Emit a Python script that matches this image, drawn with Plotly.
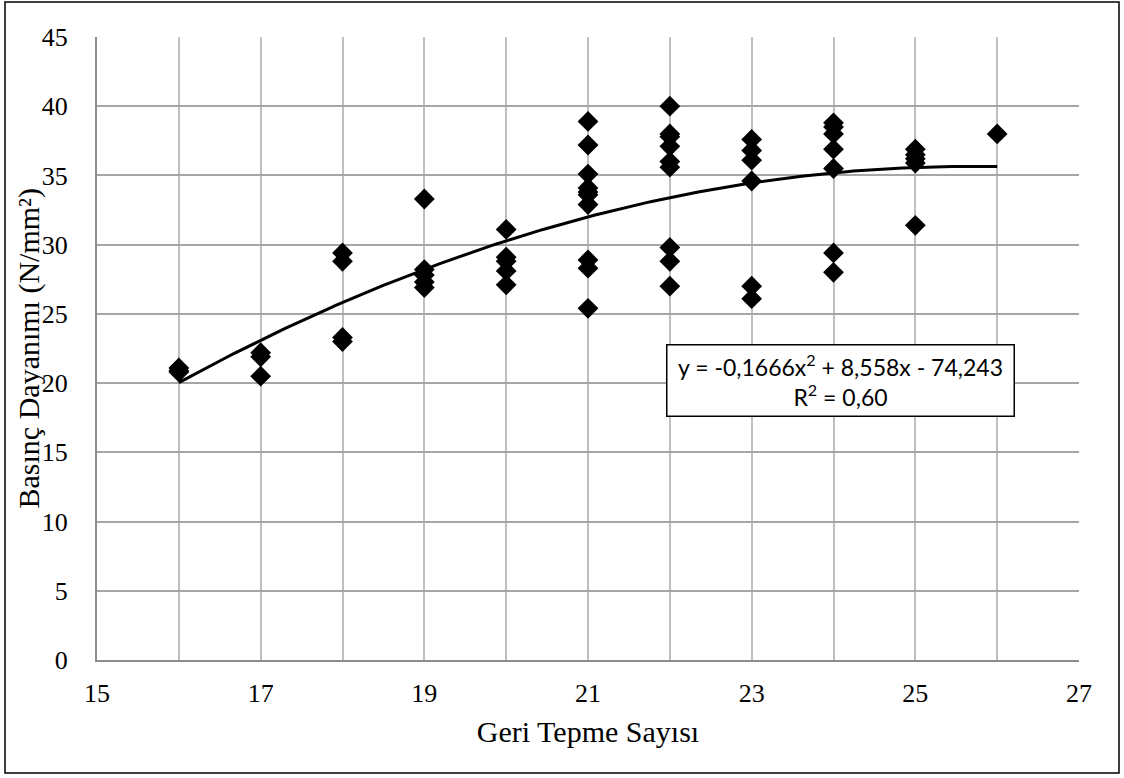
import numpy as np
import plotly.graph_objects as go

# Data (Geri Tepme Sayısı vs Basınç Dayanımı)
x_vals = ([16] * 3 + [17] * 3 + [18] * 4 + [19] * 5 + [20] * 5 + [21] * 10 +
          [22] * 9 + [23] * 6 + [24] * 7 + [25] * 5 + [26])
y_vals = [21.1, 20.9, 20.8,
          22.2, 21.9, 20.5,
          29.4, 28.8, 23.3, 23.0,
          33.3, 28.2, 27.8, 27.3, 26.9,
          31.1, 29.1, 28.8, 28.1, 27.1,
          38.9, 37.2, 35.1, 34.1, 33.8, 33.6, 32.9, 28.9, 28.3, 25.4,
          40.0, 38.0, 37.8, 37.1, 36.0, 35.6, 29.8, 28.8, 27.0,
          37.6, 36.8, 36.1, 34.6, 27.0, 26.1,
          38.8, 38.5, 38.0, 36.9, 35.5, 29.4, 28.0,
          36.9, 36.5, 36.2, 35.9, 31.4,
          38.0]

# Trend line coefficients (as printed in the chart)
coef_a, coef_b, coef_c = -0.1666, 8.558, -74.243
r_squared = "0,60"

x_tick_vals = [15, 17, 19, 21, 23, 25, 27]
y_tick_vals = [0, 5, 10, 15, 20, 25, 30, 35, 40, 45]

x_title = "Geri Tepme Sayısı"
y_title = "Basınç Dayanımı (N/mm²)"

trend_x = np.linspace(min(x_vals), max(x_vals), 200)
trend_y = coef_a * trend_x ** 2 + coef_b * trend_x + coef_c

W, H = 1124, 778
ml, mr, mt, mb = 97, 45, 37, 118
pw = W - ml - mr
ph = H - mt - mb

fig = go.Figure()
fig.add_trace(go.Scatter(
    x=x_vals, y=y_vals, mode="markers",
    marker=dict(symbol="diamond", size=16, color="black", line=dict(width=0)),
    showlegend=False, hoverinfo="x+y"))
fig.add_trace(go.Scatter(
    x=trend_x, y=trend_y, mode="lines",
    line=dict(color="black", width=3), showlegend=False, hoverinfo="skip"))

serif = "Liberation Serif, Times New Roman, serif"
TFS = 26   # tick labels
AFS = 30   # axis titles
fig.update_layout(
    width=W, height=H,
    margin=dict(l=ml, r=mr, t=mt, b=mb),
    paper_bgcolor="white", plot_bgcolor="white",
    font=dict(family=serif, size=TFS, color="black"),
    xaxis=dict(
        range=[15, 27], tickvals=x_tick_vals, ticktext=[str(v) for v in x_tick_vals],
        showgrid=True, gridcolor="#bfbfbf", gridwidth=2,
        minor=dict(dtick=1, tick0=15, showgrid=True, gridcolor="#bfbfbf", gridwidth=2),
        showline=True, linecolor="#8c8c8c", linewidth=2,
        zeroline=False, ticks="", ticklabelstandoff=9,
        tickfont=dict(family=serif, size=TFS),
        title=dict(text=x_title, font=dict(family=serif, size=AFS), standoff=14)),
    yaxis=dict(
        range=[0, 45], tickvals=y_tick_vals, ticktext=[str(v) for v in y_tick_vals],
        showgrid=True, gridcolor="#a6a6a6", gridwidth=2,
        showline=True, linecolor="#8c8c8c", linewidth=2,
        zeroline=False, ticks="", ticklabelstandoff=22,
        tickfont=dict(family=serif, size=TFS)),
)

# Y-axis title placed precisely
fig.add_annotation(
    x=(28 - ml) / pw, y=0.5, xref="paper", yref="paper",
    xanchor="center", yanchor="middle", textangle=-90,
    text=y_title, showarrow=False,
    font=dict(family=serif, size=AFS, color="black"))

# Equation box
eq_text = (f"y = {coef_a:.4f}x<sup>2</sup> + {coef_b:.3f}x - {abs(coef_c):.3f}".replace(".", ",")
           + f"<br>R<sup>2</sup> = {r_squared}")
fig.add_annotation(
    x=21.95, y=22.84, xref="x", yref="y", xanchor="left", yanchor="top",
    text=eq_text, showarrow=False, align="center",
    font=dict(family="Lato, Open Sans, sans-serif", size=23, color="black"),
    bgcolor="white", bordercolor="black", borderwidth=1.5, borderpad=0,
    width=346, height=70)

# Outer chart border
fig.add_shape(type="rect", xref="paper", yref="paper",
              x0=(5 - ml) / pw, x1=(1119 - ml) / pw,
              y0=(H - mb - 773) / ph, y1=(H - mb - 2) / ph,
              line=dict(color="black", width=1.5), fillcolor="rgba(0,0,0,0)", layer="above")

fig.write_html("out.html")
